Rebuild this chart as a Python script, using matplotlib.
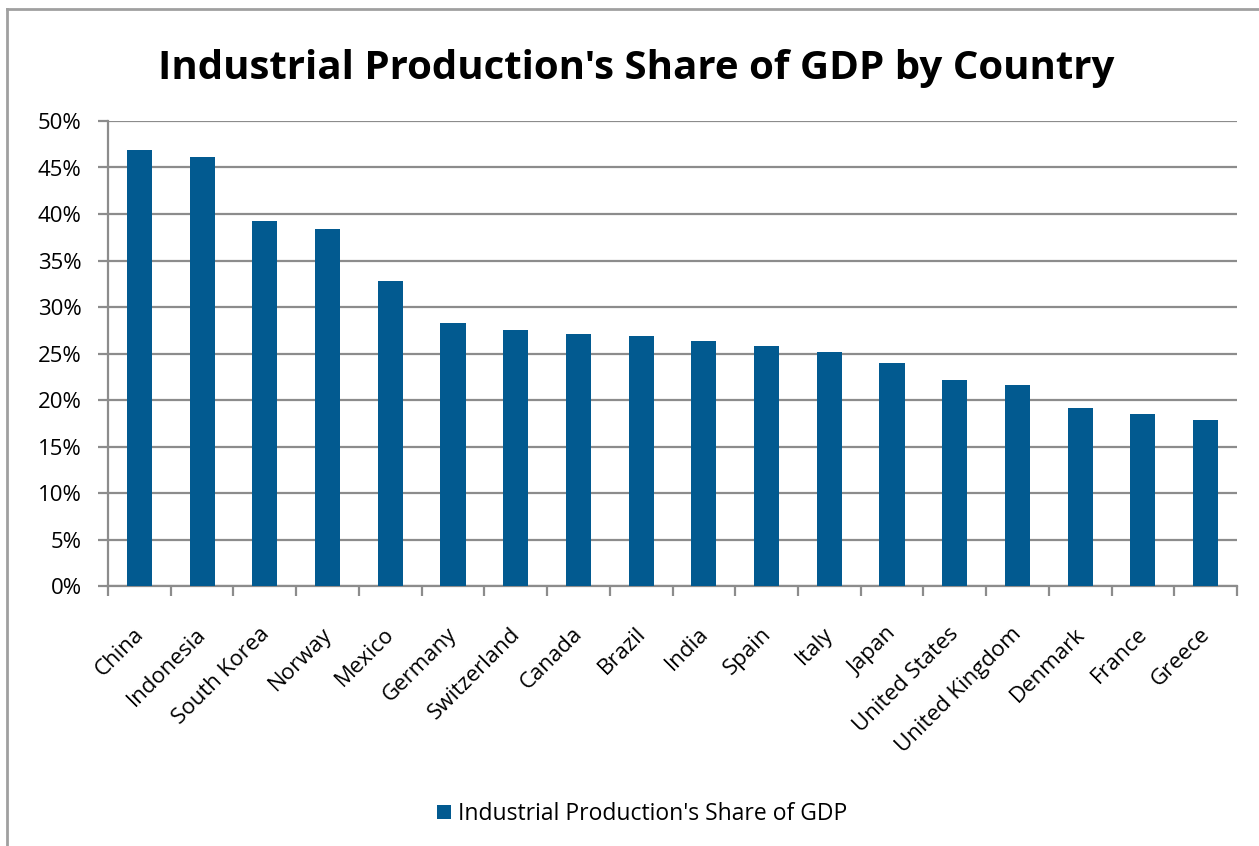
import matplotlib
matplotlib.use("Agg")

import matplotlib.pyplot as plt
from matplotlib.lines import Line2D
from matplotlib.ticker import FuncFormatter

# ---------- DATA ----------
countries = ["China", "Indonesia", "South Korea", "Norway", "Mexico", "Germany",
             "Switzerland", "Canada", "Brazil", "India", "Spain", "Italy", "Japan",
             "United States", "United Kingdom", "Denmark", "France", "Greece"]
share = [46.9, 46.1, 39.2, 38.4, 32.8, 28.3, 27.5, 27.1, 26.9, 26.3, 25.8,
         25.2, 24.0, 22.1, 21.6, 19.1, 18.5, 17.9]
series_name = "Industrial Production's Share of GDP"
title = "Industrial Production's Share of GDP by Country"

plt.rcParams["font.family"] = ["Open Sans", "DejaVu Sans"]

W, H = 1259, 846
fig = plt.figure(figsize=(W / 100, H / 100), dpi=100)

# axes box in pixel coords: left 108, right 1237, top 121, bottom 586
ax = fig.add_axes([108 / W, 1 - 586 / H, (1237 - 108) / W, (586 - 121) / H])

bar_color = "#025A90"
grid_color = "#8C8C8C"

x = list(range(len(countries)))
ax.bar(x, share, width=0.4, color=bar_color, zorder=3, label=series_name)

ax.set_xlim(-0.5, len(countries) - 0.5)
ax.set_ylim(0, 50)
ax.set_yticks(range(0, 51, 5))
ax.yaxis.set_major_formatter(FuncFormatter(lambda v, p: f"{v:.0f}%"))
ax.yaxis.grid(True, color=grid_color, lw=1.6, zorder=0)

# category ticks sit between bars, labels hang slightly left of each bar
ax.set_xticks([i - 0.5 for i in range(len(countries) + 1)], minor=False)
ax.set_xticklabels([])
ax.set_xticks([i - 0.1 for i in x], minor=True)
ax.set_xticklabels(countries, minor=True, rotation=45, ha="right",
                   rotation_mode="anchor", fontsize=16)
ax.tick_params(axis="x", which="minor", length=0, pad=27)
ax.tick_params(axis="x", which="major", length=7, width=1.6, color=grid_color)
ax.tick_params(axis="y", length=7, width=1.6, color=grid_color, labelsize=16, pad=12)

for s in ["top", "right"]:
    ax.spines[s].set_visible(False)
for s in ["left", "bottom"]:
    ax.spines[s].set_color(grid_color)
    ax.spines[s].set_linewidth(1.6)

fig.text(636 / W, 1 - 68 / H, title, ha="center", va="center",
         fontsize=29, fontweight="bold")

fig.legend(loc="center", bbox_to_anchor=(642 / W, 1 - 814 / H), frameon=False,
           fontsize=16.5, handlelength=0.6, handleheight=0.6, handletextpad=0.3)

# outer chart border (top and left visible)
fig.add_artist(Line2D([7 / W, 7 / W], [0, 1 - 9 / H], transform=fig.transFigure,
                      color="#A0A0A0", lw=2))
fig.add_artist(Line2D([7 / W, 1], [1 - 9 / H, 1 - 9 / H], transform=fig.transFigure,
                      color="#A0A0A0", lw=2))

fig.savefig("out.png", dpi=100)
